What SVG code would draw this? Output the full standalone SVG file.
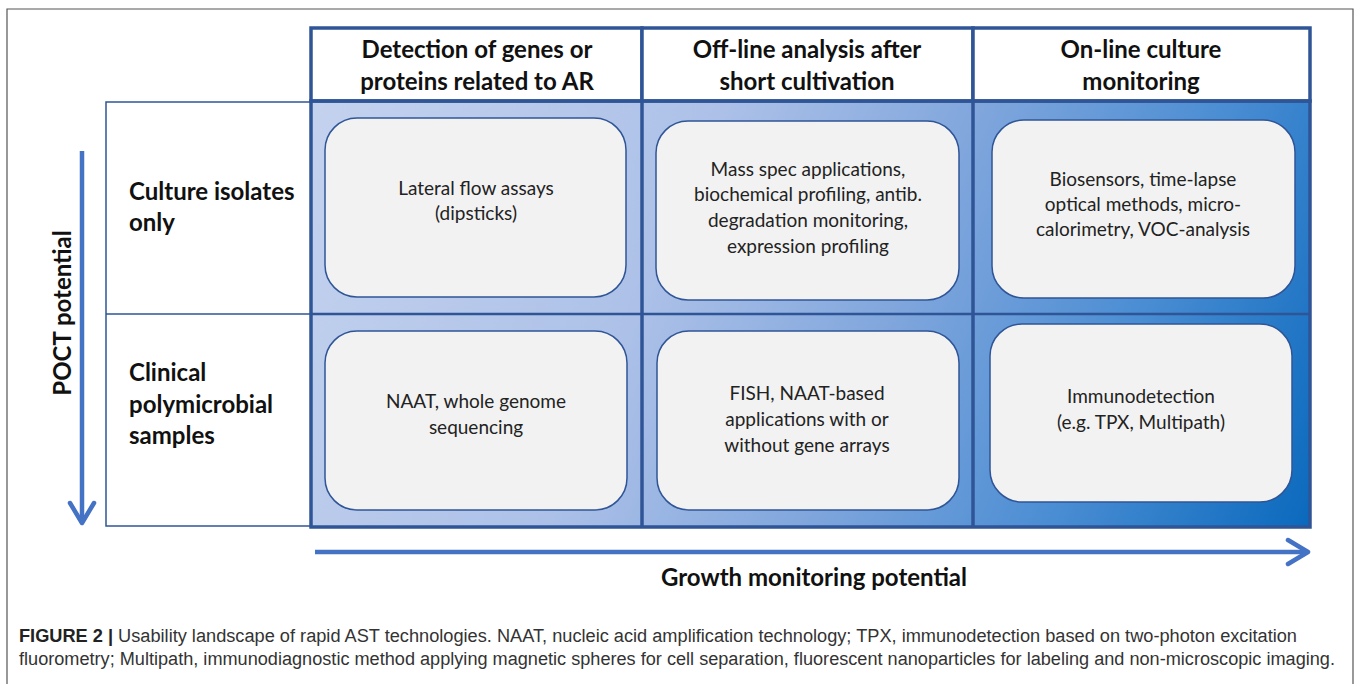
<svg xmlns="http://www.w3.org/2000/svg" width="1357" height="684" viewBox="0 0 1357 684">
  <style>
    .frame { fill: none; stroke: #555; stroke-width: 1.2; }
    .hdr { fill: #fff; stroke: #2f5597; stroke-width: 3.5; }
    .grid { fill: none; stroke: #2f5597; stroke-width: 3.5; }
    .thin { fill: none; stroke: #2f5597; stroke-width: 1.5; }
    .cell { fill: #f2f2f2; stroke: #2f5597; stroke-width: 1.5; }
    .head { font-family: Lato, "Open Sans", sans-serif; font-weight: bold; font-size: 24px; fill: #111; text-anchor: middle; }
    .lab { font-family: Lato, "Open Sans", sans-serif; font-weight: bold; font-size: 24px; fill: #111; }
    .txt { font-family: Lato, "Open Sans", sans-serif; font-size: 19px; fill: #222; text-anchor: middle; }
    .arrow { fill: none; stroke: #4472c4; stroke-width: 4.5; }
    .cap { font-family: "Liberation Sans Narrow", "Liberation Sans", Arial, sans-serif; font-size: 18px; fill: #333; }
  </style>
  <defs>
    <linearGradient id="bluefill" gradientUnits="userSpaceOnUse" x1="311" y1="101" x2="1310" y2="527">
      <stop offset="0" stop-color="#c4d2ee"/>
      <stop offset="0.35" stop-color="#adc1e8"/>
      <stop offset="0.58" stop-color="#7ea5dc"/>
      <stop offset="0.78" stop-color="#4a8dd3"/>
      <stop offset="1" stop-color="#0a69bd"/>
    </linearGradient>
    <marker id="chevron" markerUnits="userSpaceOnUse" markerWidth="30" markerHeight="30" viewBox="0 0 30 30" refX="24" refY="15" orient="auto">
      <path d="M4,3 L24,15 L4,27" fill="none" stroke="#4472c4" stroke-width="4.5" stroke-linecap="round" stroke-linejoin="round"/>
    </marker>
  </defs>

  <!-- figure frame -->
  <path class="frame" d="M7,690 V9 H1353 V690"/>

  <!-- shaded body of the matrix -->
  <rect x="311" y="101" width="999" height="426" fill="url(#bluefill)"/>

  <!-- row label column -->
  <g id="row-labels">
    <rect class="thin" x="106" y="102" width="205" height="424"/>
    <line class="thin" x1="106" y1="314" x2="311" y2="314"/>
    <text class="lab" x="129" y="200">Culture isolates</text>
    <text class="lab" x="129" y="231">only</text>
    <text class="lab" x="129" y="381">Clinical</text>
    <text class="lab" x="129" y="413">polymicrobial</text>
    <text class="lab" x="129" y="444">samples</text>
  </g>

  <!-- column headers -->
  <g id="header-genes">
    <rect class="hdr" x="311" y="28" width="331" height="73"/>
    <text class="head" x="477" y="58">Detection of genes or</text>
    <text class="head" x="477" y="90">proteins related to AR</text>
  </g>
  <g id="header-offline">
    <rect class="hdr" x="642" y="28" width="331" height="73"/>
    <text class="head" x="807" y="58">Off-line analysis after</text>
    <text class="head" x="807" y="90">short cultivation</text>
  </g>
  <g id="header-online">
    <rect class="hdr" x="973" y="28" width="337" height="73"/>
    <text class="head" x="1141" y="58">On-line culture</text>
    <text class="head" x="1141" y="90">monitoring</text>
  </g>

  <!-- matrix grid lines -->
  <g id="grid">
    <rect class="grid" x="311" y="101" width="999" height="426"/>
    <line class="grid" x1="642" y1="101" x2="642" y2="527"/>
    <line class="grid" x1="973" y1="101" x2="973" y2="527"/>
    <line x1="311" y1="314" x2="1310" y2="314" stroke="#2f5597" stroke-width="2.5"/>
  </g>

  <!-- cells -->
  <g id="cell-lateral-flow">
    <rect class="cell" x="325" y="118" width="301" height="179" rx="32"/>
    <text class="txt" x="476" y="195">Lateral flow assays</text>
    <text class="txt" x="476" y="220">(dipsticks)</text>
  </g>
  <g id="cell-mass-spec">
    <rect class="cell" x="656" y="121" width="303" height="179" rx="32"/>
    <text class="txt" x="808" y="176">Mass spec applications,</text>
    <text class="txt" x="808" y="201">biochemical profiling, antib.</text>
    <text class="txt" x="808" y="227">degradation monitoring,</text>
    <text class="txt" x="808" y="253">expression profiling</text>
  </g>
  <g id="cell-biosensors">
    <rect class="cell" x="992" y="120" width="303" height="178" rx="32"/>
    <text class="txt" x="1143" y="186">Biosensors, time-lapse</text>
    <text class="txt" x="1143" y="211">optical methods, micro-</text>
    <text class="txt" x="1143" y="236">calorimetry, VOC-analysis</text>
  </g>
  <g id="cell-naat">
    <rect class="cell" x="325" y="331" width="302" height="179" rx="32"/>
    <text class="txt" x="476" y="408">NAAT, whole genome</text>
    <text class="txt" x="476" y="434">sequencing</text>
  </g>
  <g id="cell-fish">
    <rect class="cell" x="657" y="331" width="302" height="179" rx="32"/>
    <text class="txt" x="807" y="400">FISH, NAAT-based</text>
    <text class="txt" x="807" y="426">applications with or</text>
    <text class="txt" x="807" y="452">without gene arrays</text>
  </g>
  <g id="cell-immuno">
    <rect class="cell" x="990" y="324" width="302" height="178" rx="32"/>
    <text class="txt" x="1141" y="403">Immunodetection</text>
    <text class="txt" x="1141" y="429">(e.g. TPX, Multipath)</text>
  </g>

  <!-- axes -->
  <g id="connectors">
    <line class="arrow" x1="82" y1="151" x2="82" y2="523" marker-end="url(#chevron)"/>
    <line class="arrow" x1="315" y1="552" x2="1308" y2="552" marker-end="url(#chevron)"/>
  </g>
  <g id="axis-labels">
    <text class="lab" transform="translate(71,313) rotate(-90)" text-anchor="middle" font-size="25">POCT potential</text>
    <text class="lab" x="814" y="586" text-anchor="middle" font-size="26">Growth monitoring potential</text>
  </g>

  <!-- caption -->
  <g id="caption">
    <text class="cap" x="19" y="642" textLength="1278" lengthAdjust="spacingAndGlyphs"><tspan font-weight="bold" fill="#222">FIGURE 2 |</tspan> Usability landscape of rapid AST technologies. NAAT, nucleic acid amplification technology; TPX, immunodetection based on two-photon excitation</text>
    <text class="cap" x="19" y="665" textLength="1316" lengthAdjust="spacingAndGlyphs">fluorometry; Multipath, immunodiagnostic method applying magnetic spheres for cell separation, fluorescent nanoparticles for labeling and non-microscopic imaging.</text>
  </g>
</svg>
